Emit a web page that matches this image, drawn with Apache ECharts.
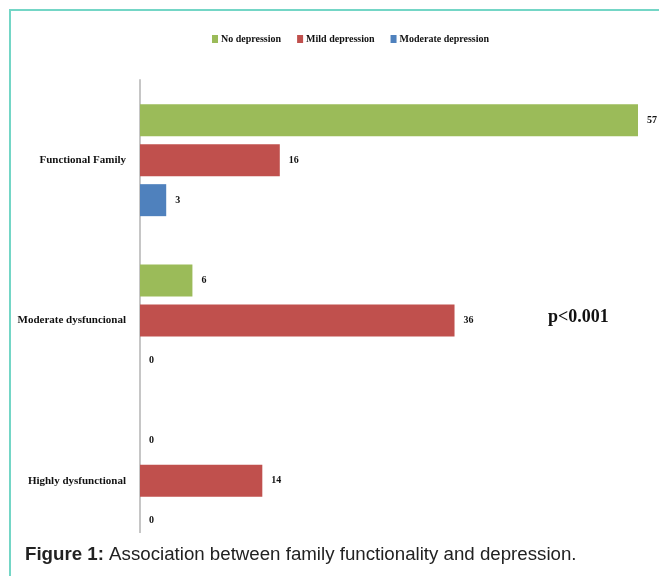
<!DOCTYPE html>
<html>
<head>
<meta charset="utf-8">
<script src="https://cdn.jsdelivr.net/npm/echarts@6/dist/echarts.min.js"></script>
<style>
  html, body { margin: 0; padding: 0; background: #fff; }
  #chart { width: 659px; height: 576px; }
</style>
</head>
<body>
<div id="chart"></div>
<script>
// data
const categories = ['Functional Family', 'Moderate dysfuncional', 'Highly dysfunctional']
const noDepression = [57, 6, 0]
const mildDepression = [16, 36, 14]
const moderateDepression = [3, 0, 0]
const seriesNames = ['No depression', 'Mild depression', 'Moderate depression']
const colors = ['#9bbb59', '#c0504d', '#4f81bd']

const chartFont = 'Liberation Serif'

const makeSeries = (name, values, color) => ({
  name: name,
  type: 'bar',
  data: values,
  barWidth: 32,
  barGap: '25%',
  itemStyle: { color: color },
  label: {
    show: true,
    position: 'right',
    distance: 9,
    color: '#111',
    fontFamily: chartFont,
    fontWeight: 'bold',
    fontSize: 10
  }
})

const chart = echarts.init(document.getElementById('chart'))
chart.setOption({
  animation: false,
  color: colors,
  legend: {
    top: 29,
    left: 207,
    itemWidth: 6,
    itemHeight: 8,
    itemGap: 16,
    icon: 'rect',
    textStyle: { fontFamily: chartFont, fontWeight: 'bold', fontSize: 10, color: '#111', padding: [0, 0, 0, -2] },
    data: seriesNames
  },
  grid: {
    left: 140,
    right: 21,
    top: 80,
    height: 481
  },
  xAxis: {
    type: 'value',
    min: 0,
    max: 57,
    show: false
  },
  yAxis: {
    type: 'category',
    inverse: true,
    data: categories,
    axisTick: { show: false },
    axisLine: { lineStyle: { color: '#c6c6c6', width: 2 } },
    axisLabel: {
      margin: 14,
      color: '#111',
      fontFamily: chartFont,
      fontWeight: 'bold',
      fontSize: 11
    }
  },
  series: [
    makeSeries(seriesNames[0], noDepression, colors[0]),
    makeSeries(seriesNames[1], mildDepression, colors[1]),
    makeSeries(seriesNames[2], moderateDepression, colors[2])
  ],
  graphic: [
    {
      // white strip under the plot so the axis stops above the caption
      type: 'rect',
      z: 100,
      shape: { x: 12, y: 533, width: 660, height: 50 },
      style: { fill: '#fff' }
    },
    {
      type: 'rect',
      z: 101,
      shape: { x: 10, y: 10, width: 700, height: 700 },
      style: { fill: 'none', stroke: '#74d6c6', lineWidth: 2 }
    },
    {
      type: 'text',
      z: 102,
      left: 548,
      top: 308,
      style: {
        text: 'p<0.001',
        font: 'bold 18px "Liberation Serif"',
        fill: '#111'
      }
    },
    {
      type: 'text',
      z: 102,
      left: 25,
      top: 545,
      style: {
        text: '{b|Figure 1:} Association between family functionality and depression.',
        font: '18.7px "Liberation Sans"',
        fill: '#222',
        rich: {
          b: { fontFamily: 'Liberation Sans', fontSize: 18.7, fontWeight: 'bold', fill: '#222' }
        }
      }
    }
  ]
})
</script>
</body>
</html>
